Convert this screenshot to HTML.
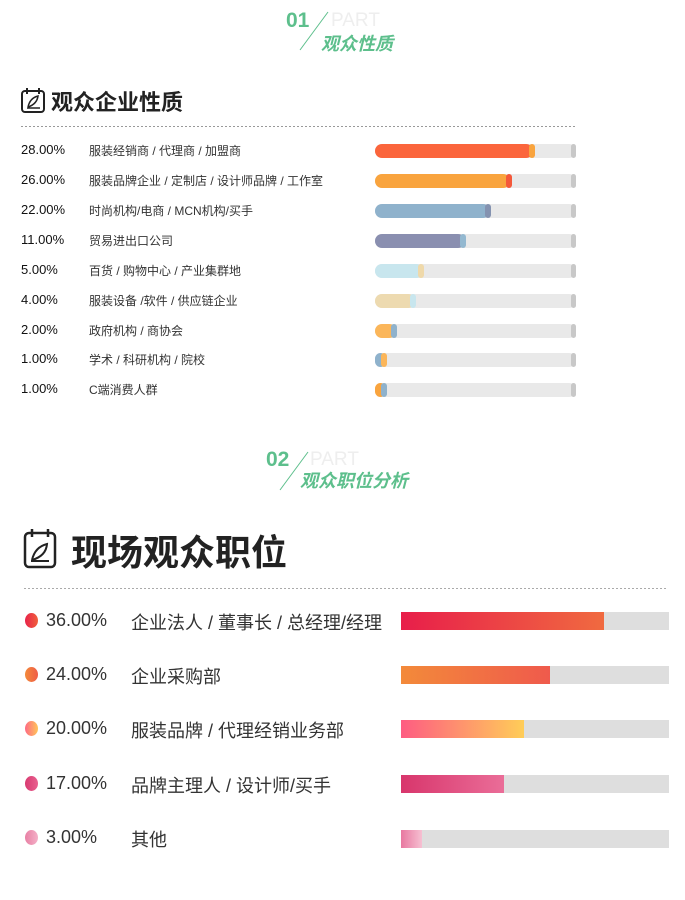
<!DOCTYPE html>
<html><head><meta charset="utf-8"><style>
*{margin:0;padding:0;box-sizing:border-box}
body{width:685px;height:900px;background:#fff;position:relative;overflow:hidden;font-family:"Liberation Sans","Noto Sans CJK SC",sans-serif;color:#222}
.a{position:absolute;white-space:nowrap}
.num{color:#5dbf8c;font-weight:bold;font-size:21px}
.part{color:#eee;font-size:19px}
.tt{color:#5dbf8c;font-weight:bold;font-style:italic;font-size:18px}
.p1{font-size:13px;color:#111}
.l1{font-size:12px;color:#333}
.tr1{position:absolute;left:375px;width:201px;height:14px;border-radius:7px;background:#e9e9e9}
.tr1:after{content:"";position:absolute;right:0;top:0;width:5px;height:14px;border-radius:3px;background:#c8c8c8}
.f1{position:absolute;left:0;top:0;height:14px;border-radius:7px}
.cap{position:absolute;top:0;width:6px;height:14px;border-radius:3px}
.p2{font-size:18px;color:#333;font-weight:300}
.l2{font-size:18px;color:#333}
.tr2{position:absolute;left:401px;width:268px;height:18px;background:#dedede}
.dot{position:absolute;left:25px;width:13px;height:15px;border-radius:50%}
</style></head><body>
<svg class="a" style="left:0;top:0" width="685" height="900">
<line x1="300" y1="50" x2="328" y2="12" stroke="#5dbf8c" stroke-width="1"/>
<line x1="280" y1="490" x2="308" y2="452" stroke="#5dbf8c" stroke-width="1"/>
<line x1="21" y1="126.5" x2="575" y2="126.5" stroke="#999" stroke-dasharray="2,2"/>
<line x1="24" y1="588.5" x2="668" y2="588.5" stroke="#aaa" stroke-dasharray="2,2"/>
<rect x="22" y="91" width="22" height="21" rx="3" fill="none" stroke="#222" stroke-width="2"/>
<line x1="27" y1="88" x2="27" y2="94" stroke="#222" stroke-width="2"/><line x1="39" y1="88" x2="39" y2="94" stroke="#222" stroke-width="2"/>
<path d="M28 107 Q30 98 38 96 Q37 104 28 107 M27 108 L40 108" fill="none" stroke="#222" stroke-width="1.5"/>
<rect x="25" y="533" width="30" height="34" rx="4" fill="none" stroke="#222" stroke-width="2.5"/>
<line x1="32" y1="529" x2="32" y2="537" stroke="#222" stroke-width="2.5"/><line x1="48" y1="529" x2="48" y2="537" stroke="#222" stroke-width="2.5"/>
<path d="M32 560 Q35 547 47 544 Q46 556 32 560 M31 561 L49 561" fill="none" stroke="#222" stroke-width="2"/>
</svg>
<div class="a num" style="left:286px;top:9px">01</div>
<div class="a part" style="left:331px;top:10px">PART</div>
<div class="a tt" style="left:321px;top:30px">观众性质</div>
<div class="a num" style="left:266px;top:448px">02</div>
<div class="a part" style="left:310px;top:449px">PART</div>
<div class="a tt" style="left:300px;top:467px">观众职位分析</div>
<div class="a" style="left:51px;top:85px;font-size:22px;font-weight:bold;color:#222">观众企业性质</div>
<div class="a" style="left:71px;top:524px;font-size:36px;font-weight:bold;color:#222">现场观众职位</div>

<div class="a p1" style="left:21px;top:142px">28.00%</div><div class="a l1" style="left:89px;top:142px">服装经销商 / 代理商 / 加盟商</div>
<div class="tr1" style="top:144px"><div class="f1" style="width:158px;background:#fb653c"></div><div class="cap" style="left:154px;background:#f9a43e"></div></div>
<div class="a p1" style="left:21px;top:172px">26.00%</div><div class="a l1" style="left:89px;top:172px">服装品牌企业 / 定制店 / 设计师品牌 / 工作室</div>
<div class="tr1" style="top:174px"><div class="f1" style="width:135px;background:#f9a43e"></div><div class="cap" style="left:131px;background:#f4583a"></div></div>
<div class="a p1" style="left:21px;top:202px">22.00%</div><div class="a l1" style="left:89px;top:202px">时尚机构/电商 / MCN机构/买手</div>
<div class="tr1" style="top:204px"><div class="f1" style="width:115px;background:#8fb2cc"></div><div class="cap" style="left:110px;background:#8492b0"></div></div>
<div class="a p1" style="left:21px;top:232px">11.00%</div><div class="a l1" style="left:89px;top:232px">贸易进出口公司</div>
<div class="tr1" style="top:234px"><div class="f1" style="width:90px;background:#8a8fb0"></div><div class="cap" style="left:85px;background:#93b8d0"></div></div>
<div class="a p1" style="left:21px;top:262px">5.00%</div><div class="a l1" style="left:89px;top:262px">百货 / 购物中心 / 产业集群地</div>
<div class="tr1" style="top:264px"><div class="f1" style="width:48px;background:#c8e6ee"></div><div class="cap" style="left:43px;background:#efd9aa"></div></div>
<div class="a p1" style="left:21px;top:292px">4.00%</div><div class="a l1" style="left:89px;top:292px">服装设备 /软件 / 供应链企业</div>
<div class="tr1" style="top:294px"><div class="f1" style="width:40px;background:#eddab0"></div><div class="cap" style="left:35px;background:#c8e6ee"></div></div>
<div class="a p1" style="left:21px;top:322px">2.00%</div><div class="a l1" style="left:89px;top:322px">政府机构 / 商协会</div>
<div class="tr1" style="top:324px"><div class="f1" style="width:21px;background:#fbb65a"></div><div class="cap" style="left:16px;background:#8fb2cc"></div></div>
<div class="a p1" style="left:21px;top:351px">1.00%</div><div class="a l1" style="left:89px;top:351px">学术 / 科研机构 / 院校</div>
<div class="tr1" style="top:353px"><div class="f1" style="width:11px;background:#8fb2cc"></div><div class="cap" style="left:6px;background:#fbb65a"></div></div>
<div class="a p1" style="left:21px;top:381px">1.00%</div><div class="a l1" style="left:89px;top:381px">C端消费人群</div>
<div class="tr1" style="top:383px"><div class="f1" style="width:11px;background:#f9a43e"></div><div class="cap" style="left:6px;background:#8fb2cc"></div></div>

<div class="dot" style="top:613px;background:linear-gradient(90deg,#e8234a,#f0603c)"></div>
<div class="a p2" style="left:46px;top:610px">36.00%</div><div class="a l2" style="left:131px;top:609px">企业法人 / 董事长 / 总经理/经理</div>
<div class="tr2" style="top:612px"><div class="f1" style="height:18px;border-radius:0;width:203px;background:linear-gradient(90deg,#e81e4a,#f06a40)"></div></div>
<div class="dot" style="top:667px;background:linear-gradient(90deg,#f38a3a,#ef5d48)"></div>
<div class="a p2" style="left:46px;top:664px">24.00%</div><div class="a l2" style="left:131px;top:663px">企业采购部</div>
<div class="tr2" style="top:666px"><div class="f1" style="height:18px;border-radius:0;width:149px;background:linear-gradient(90deg,#f38a3a,#ef5a4c)"></div></div>
<div class="dot" style="top:721px;background:linear-gradient(90deg,#fe6a84,#ffc55a)"></div>
<div class="a p2" style="left:46px;top:718px">20.00%</div><div class="a l2" style="left:131px;top:717px">服装品牌 / 代理经销业务部</div>
<div class="tr2" style="top:720px"><div class="f1" style="height:18px;border-radius:0;width:123px;background:linear-gradient(90deg,#fe5c82,#ffcd58)"></div></div>
<div class="dot" style="top:776px;background:linear-gradient(90deg,#d83a70,#e96090)"></div>
<div class="a p2" style="left:46px;top:773px">17.00%</div><div class="a l2" style="left:131px;top:772px">品牌主理人 / 设计师/买手</div>
<div class="tr2" style="top:775px"><div class="f1" style="height:18px;border-radius:0;width:103px;background:linear-gradient(90deg,#d8366c,#ea6d98)"></div></div>
<div class="dot" style="top:830px;background:linear-gradient(90deg,#e880a4,#f4b0c8)"></div>
<div class="a p2" style="left:46px;top:827px">3.00%</div><div class="a l2" style="left:131px;top:826px">其他</div>
<div class="tr2" style="top:830px"><div class="f1" style="height:18px;border-radius:0;width:21px;background:linear-gradient(90deg,#e878a0,#f6c0d2)"></div></div>
</body></html>
